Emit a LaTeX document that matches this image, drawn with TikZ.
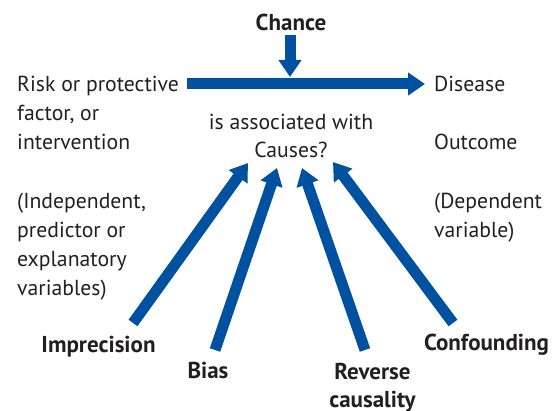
\documentclass[tikz,border=0pt]{standalone}
\usepackage{fontspec}
\setmainfont{PT Sans}
\usetikzlibrary{arrows.meta}
\definecolor{arrowblue}{RGB}{0,82,160}
\definecolor{txt}{RGB}{35,31,32}
\begin{document}
\begin{tikzpicture}[x=1pt,y=-1pt,
  bigarrow/.style={draw=arrowblue,line width=11pt,-{Triangle[length=17pt,width=22pt]}},
  lbl/.style={inner sep=0pt,text=txt,font=\fontsize{21.7}{28.7}\selectfont,align=left},
  clbl/.style={inner sep=0pt,text=txt,font=\fontsize{21.7}{28}\selectfont,align=center},
  blbl/.style={inner sep=0pt,text=txt,font=\fontsize{23}{28}\selectfont\bfseries,align=center}]
\useasboundingbox (0,0) rectangle (559,411);
% texts (base anchor = baseline of last line)
\node[blbl,anchor=base] (chance) at (291,31) {Chance};
\node[lbl,anchor=base west] (risk) at (17,149.4) {Risk or protective\\factor, or\\intervention};
\node[lbl,anchor=base west] (indep) at (17,295.1) {(Independent,\\predictor or\\explanatory\\variables)};
\node[clbl,anchor=base] (assoc) at (291,158) {is associated with\\Causes?};
\node[lbl,anchor=base west] (disease) at (434,92) {Disease};
\node[lbl,anchor=base west] (outcome) at (434,150) {Outcome};
\node[lbl,anchor=base west] (dep) at (434,237.7) {(Dependent\\variable)};
\node[blbl,anchor=base] (imp) at (98.5,352) {Imprecision};
\node[blbl,anchor=base] (bias) at (208,378) {Bias};
\node[blbl,anchor=base] (rev) at (372.5,407) {Reverse\\causality};
\node[blbl,anchor=base] (conf) at (486.5,350) {Confounding};
% arrow ends
\coordinate (mainS) at (187,84);
\coordinate (mainE) at (425,84);
\coordinate (chS) at (290,35);
\coordinate (chE) at (290,77);
\coordinate (impS) at (133,323);
\coordinate (impE) at (248,163);
\coordinate (biasS) at (215,350);
\coordinate (biasE) at (277,168);
\coordinate (revS) at (365,350);
\coordinate (revE) at (302,168);
\coordinate (confS) at (453,323);
\coordinate (confE) at (333,162);
% arrows
\draw[bigarrow] (mainS) -- (mainE);
\draw[bigarrow] (chS) -- (chE);
\draw[bigarrow] (impS) -- (impE);
\draw[bigarrow] (biasS) -- (biasE);
\draw[bigarrow] (revS) -- (revE);
\draw[bigarrow] (confS) -- (confE);
\end{tikzpicture}
\end{document}
